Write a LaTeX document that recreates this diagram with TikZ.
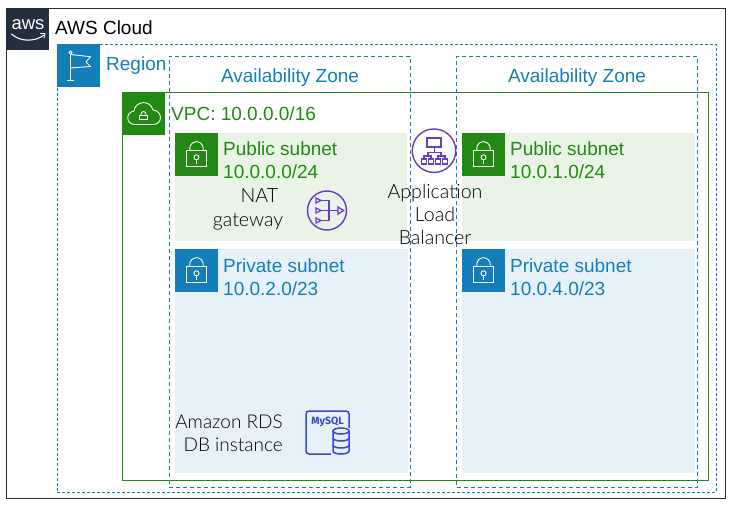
\documentclass[tikz,border=0pt]{standalone}
\usepackage{fontspec}
\setmainfont{Liberation Sans}
\newfontfamily\lightfont[UprightFont=* Light]{Lato}
\newfontfamily\boldsans[Scale=1]{Fira Sans}
\definecolor{awsdark}{HTML}{232F3E}
\definecolor{awsblue}{HTML}{147EBA}
\definecolor{awsgreen}{HTML}{248814}
\definecolor{pubfill}{HTML}{E9F3E6}
\definecolor{privfill}{HTML}{E6F2F8}
\definecolor{awspurple}{HTML}{693CC5}
\definecolor{rdsblue}{HTML}{3B48CC}
\tikzset{
  tile/.style={minimum width=43pt,minimum height=43pt,inner sep=0pt,outer sep=0pt,anchor=north west},
  azbox/.style={draw=awsblue,line width=0.9pt,dash pattern=on 4pt off 3pt},
  labelfont/.style={font=\fontsize{19}{23}\selectfont},
  zonetext/.style={labelfont,text=awsblue,anchor=center,inner sep=0pt},
  subtext/.style={labelfont,anchor=north west,align=left,inner sep=0pt},
  svctext/.style={font=\lightfont\fontsize{19.6}{23.3}\selectfont,text=black,inner sep=0pt},
  glyph/.style={draw=white,line width=0.9pt,fill=none},
  lockglyph/.pic={
    \draw[glyph] (-10,-4) rectangle (10,12.7);
    \draw[glyph] (-6.7,-4) -- (-6.7,-5.6) arc[start angle=180,end angle=360,radius=6.7] -- (6.7,-4);
    \draw[glyph] (0,3.3) circle (2.5);
    \draw[glyph] (0,5.8) -- (0,9.5);
  },
}
\begin{document}
\begin{tikzpicture}[x=1pt,y=-1pt]
\useasboundingbox (0,0) rectangle (733,506);
% outer frame
\node[draw=awsdark,line width=1pt,minimum width=719pt,minimum height=490pt,inner sep=0pt,outer sep=0pt,anchor=north west] (cloud) at (6,8) {};
\node[tile,fill=awsdark,minimum height=42pt] (logo) at (6,8) {};
\node[text=white,font=\fontsize{18.5}{16}\selectfont,inner sep=0pt] (awsword) at (28,24.5) {aws};
\draw[white,line width=1.1pt,line cap=round] (11.5,34) .. controls (20,42) and (35,42) .. (44,35);
\draw[white,line width=0.9pt,line cap=round] (40.5,33.5) -- (45,33.5) -- (44,38);
\node[anchor=west,inner sep=0pt,labelfont,text=black] (cloudlabel) at (55,28) {AWS Cloud};
% subnets
\node[fill=pubfill,minimum width=232pt,minimum height=108pt,inner sep=0pt,outer sep=0pt,anchor=north west] (pub1) at (175,133) {};
\node[fill=pubfill,minimum width=233pt,minimum height=108pt,inner sep=0pt,outer sep=0pt,anchor=north west] (pub2) at (462,133) {};
\node[fill=privfill,minimum width=233pt,minimum height=224pt,inner sep=0pt,outer sep=0pt,anchor=north west] (priv1) at (175,249) {};
\node[fill=privfill,minimum width=233pt,minimum height=224pt,inner sep=0pt,outer sep=0pt,anchor=north west] (priv2) at (462,249) {};
% region
\node[draw=awsblue,line width=0.9pt,dash pattern=on 3pt off 2pt,minimum width=659pt,minimum height=448pt,inner sep=0pt,outer sep=0pt,anchor=north west] (region) at (57,44) {};
\node[tile,fill=awsblue] (regiontile) at (57,44) {};
\draw[glyph] (70.5,53.5) -- (70.5,80.5) (67,80.5) -- (74,80.5) (70.5,54.5) -- (90.5,56.7) -- (86,62) -- (90.5,66.5) -- (70.5,68);
\draw[glyph,fill=awsblue] (70.5,52.5) circle (1.6);
\node[anchor=west,inner sep=0pt,text=awsblue,labelfont] (regionlabel) at (106,66) {Region};
% VPC
\node[draw=awsgreen,line width=1pt,minimum width=586pt,minimum height=388pt,inner sep=0pt,outer sep=0pt,anchor=north west] (vpc) at (122,92) {};
\node[tile,fill=awsgreen] (vpctile) at (122,92) {};
\draw[glyph] (135,124.5) .. controls (126,124.5) and (125,112.5) .. (134,111) .. controls (135,101) and (150,99) .. (153,110) .. controls (163,111) and (163,124.5) .. (153,124.5) -- cycle;
\draw[glyph] (139.5,115) rectangle (147.5,119.5);
\draw[glyph] (141,115) -- (141,114) arc[start angle=180,end angle=360,radius=2.5] -- (146,115);
\node[anchor=west,inner sep=0pt,text=awsgreen,labelfont] (vpclabel) at (171,113.5) {VPC: 10.0.0.0/16};
% AZ
\node[azbox,minimum width=241pt,minimum height=431pt,inner sep=0pt,outer sep=0pt,anchor=north west] (az1) at (169,56) {};
\node[azbox,minimum width=240.5pt,minimum height=431pt,inner sep=0pt,outer sep=0pt,anchor=north west] (az2) at (456.5,56) {};
\node[zonetext] (az1label) at (290,78) {Availability Zone};
\node[zonetext] (az2label) at (577,78) {Availability Zone};
% subnet tiles
\node[tile,fill=awsgreen] (pub1tile) at (175,133) {};
\pic at (196.5,154) {lockglyph};
\node[tile,fill=awsgreen] (pub2tile) at (462,133) {};
\pic at (483.5,154) {lockglyph};
\node[tile,fill=awsblue] (priv1tile) at (175,249) {};
\pic at (196.5,270) {lockglyph};
\node[tile,fill=awsblue] (priv2tile) at (462,249) {};
\pic at (483.5,270) {lockglyph};
\node[subtext,text=awsgreen] (pub1label) at (223,142) {Public subnet\\10.0.0.0/24};
\node[subtext,text=awsgreen] (pub2label) at (510,142) {Public subnet\\10.0.1.0/24};
\node[subtext,text=awsblue] (priv1label) at (223,258.5) {Private subnet\\10.0.2.0/23};
\node[subtext,text=awsblue] (priv2label) at (510,258.5) {Private subnet\\10.0.4.0/23};
% service labels
\node[svctext,align=center] (natlabel) at (248,209.5) {\hspace*{23pt}NAT\\gateway};
\node[svctext,align=center] (alblabel) at (435,214.5) {Application\\Load\\Balancer};
\node[svctext,font=\lightfont\fontsize{19}{23.3}\selectfont,align=right,anchor=east] (rdslabel) at (283,433) {Amazon RDS\\DB instance};
% NAT icon
\begin{scope}[awspurple,line width=1.3pt]
\node[draw=awspurple,line width=1.4pt,circle,minimum size=39pt,inner sep=0pt] (naticon) at (327,210.5) {};
\draw (316,198) -- (321,200.5) -- (316,203) -- cycle;
\draw (316,208) -- (321,210.5) -- (316,213) -- cycle;
\draw (316,218) -- (321,220.5) -- (316,223) -- cycle;
\draw (321,200.5) -- (329,200.5) -- (329,220.5) -- (321,220.5);
\draw (321,210.5) -- (338,210.5);
\draw (338,207) -- (343.5,210.5) -- (338,214) -- cycle;
\end{scope}
% ALB icon
\begin{scope}[awspurple,line width=1.3pt]
\node[draw=awspurple,line width=1.4pt,circle,minimum size=43.5pt,inner sep=0pt] (albicon) at (434,150.7) {};
\draw (427,138) rectangle (441,147);
\draw (434.5,147) -- (434.5,152.5);
\draw (428,156) -- (428,152.5) -- (441,152.5) -- (441,156);
\draw (424,159) -- (424,156) -- (431,156) -- (431,159);
\draw (438,159) -- (438,156) -- (445,156) -- (445,159);
\foreach \cx in {424,431,438,445} {\draw (\cx-2.6,159) rectangle (\cx+2.6,164);}
\end{scope}
% RDS icon
\begin{scope}[rdsblue,line width=1.5pt]
\draw[rounded corners=3pt] (331,454) -- (306,454) -- (306,411) -- (349,411) -- (349,428);
\node[inner sep=0pt,text=rdsblue,font=\boldsans\bfseries\fontsize{10.5}{10}\selectfont] (mysql) at (327.5,421.5) {MySQL};
\draw (333,431) -- (333,451) arc[start angle=180,end angle=0,x radius=8,y radius=3] -- (349,431);
\draw (341,431) ellipse[x radius=8,y radius=3];
\draw (333,438) arc[start angle=180,end angle=0,x radius=8,y radius=3];
\draw (333,445) arc[start angle=180,end angle=0,x radius=8,y radius=3];
\end{scope}
\end{tikzpicture}
\end{document}
